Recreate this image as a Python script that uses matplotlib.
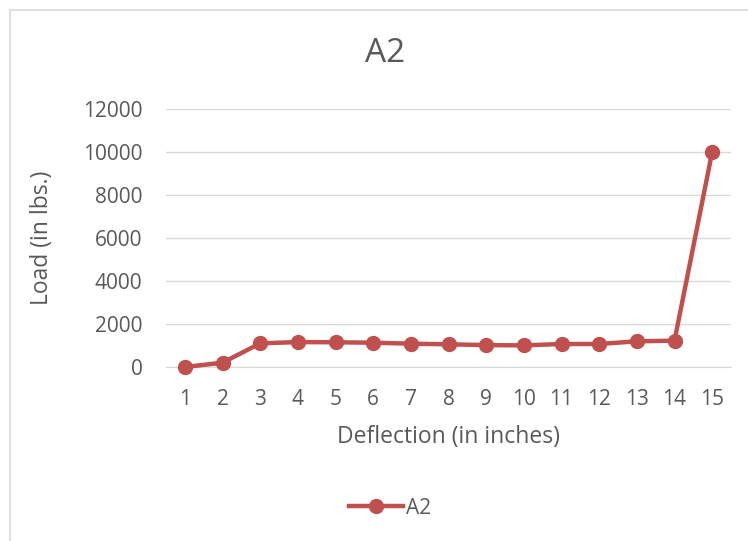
import matplotlib
matplotlib.use("Agg")
import matplotlib.pyplot as plt
from matplotlib.lines import Line2D

categories = [str(i) for i in range(1, 16)]
load = [0, 200, 1100, 1160, 1150, 1130, 1085, 1055, 1020, 1005, 1070, 1070, 1195, 1225, 10000]
yticks = [0, 2000, 4000, 6000, 8000, 10000, 12000]

plt.rcParams['font.family'] = ['Open Sans', 'DejaVu Sans']
gray = '#595959'
red = '#C0504D'

W, H = 748, 541
fig = plt.figure(figsize=(W/100, H/100), dpi=100)
ax = fig.add_axes([166/W, 1-367/H, (731-166)/W, (367-109)/H])

x = list(range(len(categories)))
ax.plot(x, load, color=red, lw=3.2, marker='o', ms=10, clip_on=False, zorder=3, label='A2')
ax.set_xlim(-0.5, len(categories)-0.5)
ax.set_ylim(0, 12000)
ax.set_yticks(yticks)
ax.set_yticklabels([str(v) for v in yticks])
ax.set_xticks(x)
ax.set_xticklabels(categories)
ax.grid(axis='y', color='#D9D9D9', lw=1)
ax.set_axisbelow(True)
for s in ['top', 'right', 'left']:
    ax.spines[s].set_visible(False)
ax.spines['bottom'].set_color('#D9D9D9')
ax.tick_params(axis='both', length=0, labelsize=15, labelcolor=gray)
ax.tick_params(axis='y', pad=17)
ax.tick_params(axis='x', pad=16)

fig.text(385/W, 1-54/H, 'A2', ha='center', va='center', fontsize=24, color=gray)
fig.text(42/W, 1-238/H, 'Load (in lbs.)', ha='center', va='center', rotation=90, fontsize=16.5, color=gray)
fig.text(449/W, 1-437/H, 'Deflection (in inches)', ha='center', va='center', fontsize=16.5, color=gray)

leg = fig.legend(loc='center', bbox_to_anchor=(390/W, 1-508/H), frameon=False, fontsize=15,
                 handlelength=2.6, handletextpad=0.1)
for t in leg.get_texts():
    t.set_color(gray)

fig.add_artist(Line2D([9.5/W, 9.5/W], [0, 1-10/H], color='#D9D9D9', lw=1.2, transform=fig.transFigure))
fig.add_artist(Line2D([9.5/W, 1], [1-10/H, 1-10/H], color='#D9D9D9', lw=1.2, transform=fig.transFigure))

fig.savefig('out.png', dpi=100)
